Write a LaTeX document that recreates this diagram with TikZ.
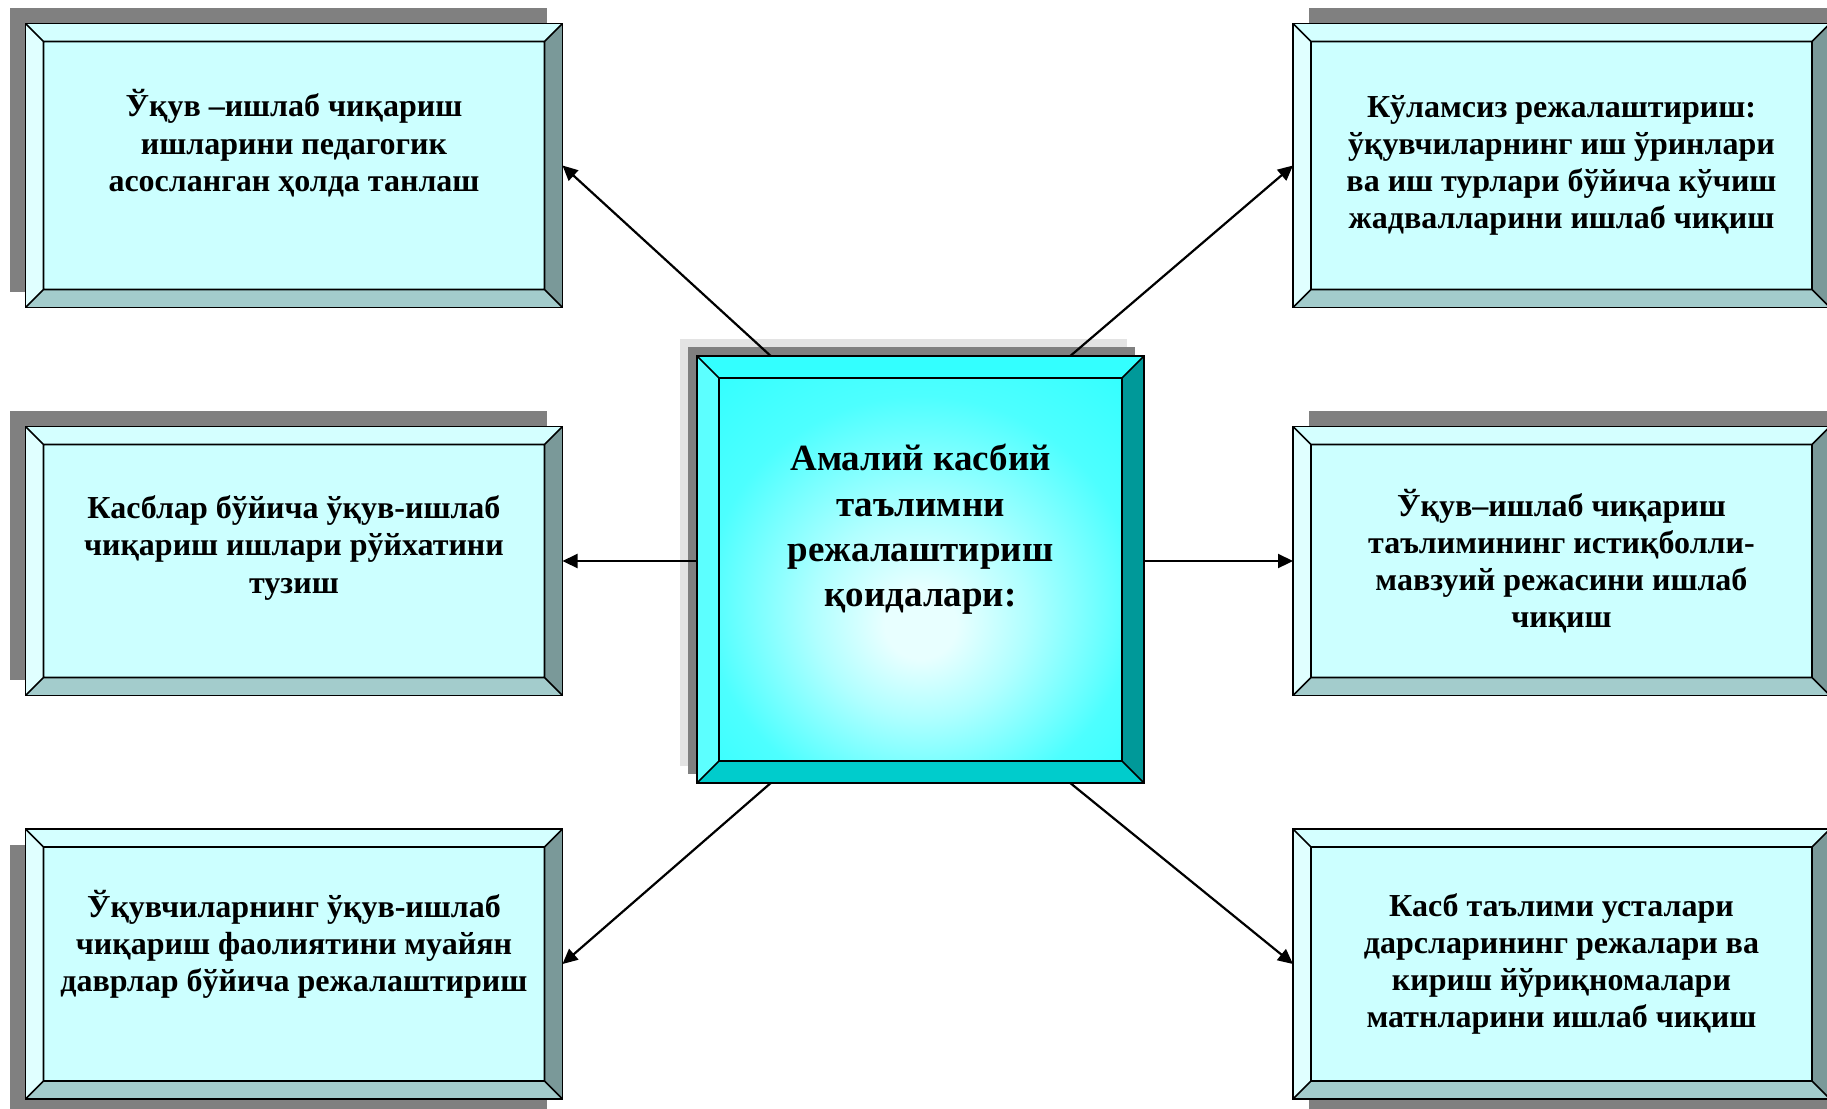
\documentclass[tikz,border=0pt]{standalone}
\usepackage{fontspec}
\setmainfont{Liberation Serif}
\usetikzlibrary{arrows.meta, calc, shadows}
\definecolor{facelt}{HTML}{CCFFFF}
\definecolor{bvleft}{HTML}{E0FFFF}
\definecolor{bvtop}{HTML}{D4FFFF}
\definecolor{bvright}{HTML}{7A9999}
\definecolor{bvbottom}{HTML}{A3CCCC}
\definecolor{cleft}{HTML}{5CFFFF}
\definecolor{ctop}{HTML}{33FFFF}
\definecolor{cright}{HTML}{009999}
\definecolor{cbottom}{HTML}{00CCCC}
\definecolor{glowc}{HTML}{E8FFFF}
\definecolor{glowm}{HTML}{B0FFFF}
\definecolor{glowo}{HTML}{4DFFFF}
\definecolor{shgray}{HTML}{808080}
\definecolor{shlight}{HTML}{E3E3E3}
\pgfdeclareradialshading{glow}{\pgfpoint{0bp}{-7bp}}{color(0bp)=(glowc); color(4bp)=(glowc); color(12bp)=(glowm); color(24bp)=(glowo); color(34bp)=(ctop); color(50bp)=(ctop)}

% bevelled frame: width, left, top, right, bottom
\newcommand\bevelring[5]{%
  \coordinate (o1) at (path picture bounding box.north west);
  \coordinate (o2) at (path picture bounding box.north east);
  \coordinate (o3) at (path picture bounding box.south east);
  \coordinate (o4) at (path picture bounding box.south west);
  \coordinate (i1) at ($(o1)+(#1,-#1)$);
  \coordinate (i2) at ($(o2)+(-#1,-#1)$);
  \coordinate (i3) at ($(o3)+(-#1,#1)$);
  \coordinate (i4) at ($(o4)+(#1,#1)$);
  \fill[#3] (o1) -- (o2) -- (i2) -- (i1) -- cycle;
  \fill[#4] (o2) -- (o3) -- (i3) -- (i2) -- cycle;
  \fill[#5] (o3) -- (o4) -- (i4) -- (i3) -- cycle;
  \fill[#2] (o4) -- (o1) -- (i1) -- (i4) -- cycle;
  \draw[line width=0.85pt] (i1) rectangle (i3) (o1) -- (i1) (o2) -- (i2) (o3) -- (i3) (o4) -- (i4);
}

\begin{document}
\begin{tikzpicture}[
    x=0.5pt, y=-0.5pt,
    box/.style={rectangle, draw, line width=0.9pt, inner sep=0pt, outer sep=0pt,
                align=center},
    side/.style={box, fill=facelt, minimum width=268.5pt,
                 font=\fontsize{16}{18.6}\selectfont\bfseries,
                 path picture={\bevelring{9pt}{bvleft}{bvtop}{bvright}{bvbottom}}},
    hub/.style={box, minimum width=223.5pt, minimum height=213.5pt,
                font=\fontsize{18.5}{22.7}\selectfont\bfseries,
                general shadow={fill=shlight, shadow xshift=-8.5pt, shadow yshift=8.5pt},
                general shadow={fill=shgray, shadow xshift=-4.5pt, shadow yshift=4.5pt},
                path picture={\shade[shading=glow] (path picture bounding box.north west) rectangle (path picture bounding box.south east);
                              \bevelring{11pt}{cleft}{ctop}{cright}{cbottom}}},
    upleft/.style={general shadow={fill=shgray, shadow xshift=-8pt, shadow yshift=8pt}},
    downleft/.style={general shadow={fill=shgray, shadow xshift=-8pt, shadow yshift=-8pt}},
    upright/.style={general shadow={fill=shgray, shadow xshift=8pt, shadow yshift=8pt}},
    downright/.style={general shadow={fill=shgray, shadow xshift=8pt, shadow yshift=-8pt}},
    lift/.style={text depth=#1},
    arrow/.style={-{Triangle[length=7.5pt, width=7pt]}, line width=1.1pt},
  ]
  \useasboundingbox (0,0) rectangle (1827,1109);

  % centre
  \node[hub, lift=44pt] (rules) at (920.5,569.5)
    {Амалий касбий\\таълимни\\режалаштириш\\қоидалари:};

  % left column
  \node[side, upleft, minimum height=142pt, lift=25pt] (select) at (294,165.5)
    {Ўқув –ишлаб чиқариш\\ишларини педагогик\\асосланган ҳолда танлаш};
  \node[side, upleft, minimum height=134.5pt, lift=16.5pt] (list) at (294,561)
    {Касблар бўйича ўқув-ишлаб\\чиқариш ишлари рўйхатини\\тузиш};
  \node[side, downleft, minimum height=135pt, lift=23pt] (period) at (294,964)
    {Ўқувчиларнинг ўқув-ишлаб\\чиқариш фаолиятини муайян\\даврлар бўйича режалаштириш};

  % right column
  \node[side, upright, minimum height=142pt] (rotate) at (1561.5,165.5)
    {Кўламсиз режалаштириш:\\ўқувчиларнинг иш ўринлари\\ва иш турлари бўйича кўчиш\\жадвалларини ишлаб чиқиш};
  \node[side, upright, minimum height=134.5pt] (theme) at (1561.5,561)
    {Ўқув–ишлаб чиқариш\\таълимининг истиқболли-\\мавзуий режасини ишлаб\\чиқиш};
  \node[side, downright, minimum height=135pt] (lesson) at (1561.5,964)
    {Касб таълими усталари\\дарсларининг режалари ва\\кириш йўриқномалари\\матнларини ишлаб чиқиш};

  % connectors
  \draw[arrow] ($(rules.north west)!.165!(rules.north east)$) -- (select.east);
  \draw[arrow] ($(rules.north west)!.835!(rules.north east)$) -- (rotate.west);
  \draw[arrow] (rules.west |- list.east) -- (list.east);
  \draw[arrow] (rules.east |- theme.west) -- (theme.west);
  \draw[arrow] ($(rules.south west)!.165!(rules.south east)$) -- (period.east);
  \draw[arrow] ($(rules.south west)!.835!(rules.south east)$) -- (lesson.west);
\end{tikzpicture}
\end{document}
